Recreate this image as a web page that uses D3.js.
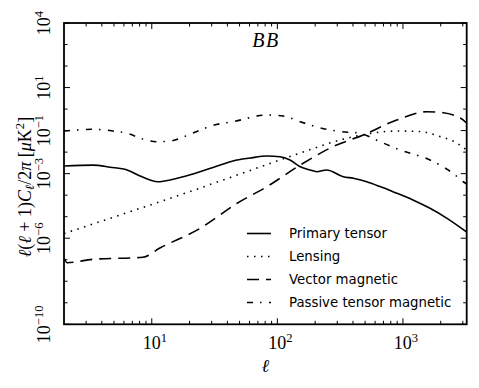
<!DOCTYPE html>
<html><head><meta charset="utf-8">
<script src="https://cdn.jsdelivr.net/npm/d3@7"></script>
<style>body{margin:0;background:#fff}svg{display:block}</style>
</head><body>
<svg id="c" width="479" height="388"></svg>
<script>
// ---- data ----
const primaryL = [2,3.4,4.66,6.36,8.07,9.7,11.2,14,21.3,35,44.4,60.6,82.8,105,126,152,182,206,247,335,403,515,658,834,1202,1643,2245,3220];
const primaryV = [2.26e-3,2.5e-3,2.0e-3,1.48e-3,7.8e-4,5.1e-4,4.2e-4,5.1e-4,9.6e-4,2.5e-3,3.9e-3,5.3e-3,6.6e-3,6.1e-3,4.3e-3,2.1e-3,1.48e-3,1.23e-3,1.48e-3,7.2e-4,6.1e-4,4.2e-4,2.5e-4,1.45e-4,6.0e-5,2.45e-5,8.4e-6,1.94e-6];
const lensingL = [2,9.7,24.3,60.6,152,316,518,897,1368,1974,2600,3220];
const lensingV = [1.65e-6,3.5e-5,2.15e-4,1.4e-3,9.1e-3,0.0366,0.0695,0.0957,0.091,0.053,0.0295,0.0126];
const vectorL = [2,2.12,3.4,8.5,11.6,24.3,47.8,82.8,152,277,484,893,1546,2100,2518,3027,3220];
const vectorV = [1.2e-7,7.3e-8,1.05e-7,1.3e-7,3.5e-7,2.9e-6,4.2e-5,2.5e-4,2.5e-3,0.0179,0.0625,0.311,0.755,0.68,0.53,0.31,0.225];
const passiveL = [2,3.4,4.92,6.36,8.5,11.0,14,21.3,30.8,44.4,82.8,111,152,206,316,455,658,949,1643,2084,2506,3027,3220];
const passiveV = [0.0957,0.115,0.096,0.0748,0.0407,0.0305,0.0329,0.0773,0.176,0.26,0.53,0.476,0.26,0.147,0.091,0.0748,0.0305,0.0126,4.3e-3,2.1e-3,1.03e-3,4.2e-4,3.3e-4];
const seriesNames = ["Primary tensor","Lensing","Vector magnetic","Passive tensor magnetic"];
const xDomain = [2, 3220];
const yDomain = [1e-10, 1e4];
const xMajorTicks = [10, 100, 1000];
const xTickLabels = ["1", "2", "3"];           // exponents of 10
const yLabeledTicks = [1e4, 1e1, 1e-1, 1e-3, 1e-6, 1e-10];
const yTickLabels = ["4", "1", "\u22121", "\u22123", "\u22126", "\u221210"];
const titleText = "BB";

// ---- layout ----
const L = 64, R = 466.7, T = 23, B = 324.3;
const svg = d3.select("#c");
const x = d3.scaleLog().domain(xDomain).range([L, R]);
const y = d3.scaleLog().domain(yDomain).range([B, T]);
const serif = "'Liberation Serif','DejaVu Serif',serif";

svg.append("defs").append("clipPath").attr("id","clip")
  .append("rect").attr("x",L).attr("y",T).attr("width",R-L).attr("height",B-T);

const styles = [
  {dash:null},
  {dash:"1.5,5.5"},
  {dash:"12,7"},
  {dash:"6,7,1.5,7.5"}
];
const data = [
  d3.zip(primaryL, primaryV),
  d3.zip(lensingL, lensingV),
  d3.zip(vectorL, vectorV),
  d3.zip(passiveL, passiveV)
];
const line = d3.line().x(d=>x(d[0])).y(d=>y(d[1])).curve(d3.curveMonotoneX);
const g = svg.append("g").attr("clip-path","url(#clip)");
data.forEach((d,i)=>{
  g.append("path").attr("d",line(d)).attr("fill","none").attr("stroke","#000")
   .attr("stroke-width",1.6).attr("stroke-dasharray",styles[i].dash);
});

// ---- ticks ----
const xMinor = [];
for (let e=0;e<4;e++) for (let m=2;m<10;m++){ const v=m*Math.pow(10,e); if(v>xDomain[0]&&v<xDomain[1]) xMinor.push(v); }
const yAll = d3.range(-10,5).map(e=>Math.pow(10,e));
const tk = svg.append("g").attr("stroke","#000").attr("stroke-width",1);
xMinor.forEach(v=>{
  tk.append("line").attr("x1",x(v)).attr("x2",x(v)).attr("y1",B).attr("y2",B-3.5);
  tk.append("line").attr("x1",x(v)).attr("x2",x(v)).attr("y1",T).attr("y2",T+3.5);
});
xMajorTicks.forEach(v=>{
  tk.append("line").attr("x1",x(v)).attr("x2",x(v)).attr("y1",B).attr("y2",B-6);
  tk.append("line").attr("x1",x(v)).attr("x2",x(v)).attr("y1",T).attr("y2",T+6);
});
yAll.forEach(v=>{
  const major = yLabeledTicks.some(t=>Math.abs(Math.log10(t)-Math.log10(v))<1e-6);
  const len = major?6:3.5;
  tk.append("line").attr("x1",L).attr("x2",L+len).attr("y1",y(v)).attr("y2",y(v));
  tk.append("line").attr("x1",R).attr("x2",R-len).attr("y1",y(v)).attr("y2",y(v));
});

// frame
svg.append("rect").attr("x",L).attr("y",T).attr("width",R-L).attr("height",B-T)
  .attr("fill","none").attr("stroke","#000").attr("stroke-width",1.8);

// x tick labels
xMajorTicks.forEach((v,i)=>{
  const t = svg.append("text").attr("x",x(v)+3).attr("y",349).attr("text-anchor","middle")
    .attr("font-family",serif).attr("font-size",18);
  t.append("tspan").text("10");
  t.append("tspan").attr("dy",-7).attr("font-size",12.6).text(xTickLabels[i]);
});
// y tick labels (rotated)
yLabeledTicks.forEach((v,i)=>{
  const t = svg.append("text").attr("transform",`translate(50,${y(v)}) rotate(-90)`)
    .attr("text-anchor","middle").attr("font-family",serif).attr("font-size",18);
  t.append("tspan").text("10");
  t.append("tspan").attr("dy",-7).attr("font-size",12.6).text(yTickLabels[i]);
});

// axis labels
const xl = svg.append("text").attr("x",(L+R)/2).attr("y",372).attr("text-anchor","middle")
  .attr("font-family",serif).attr("font-size",18).attr("font-style","italic").text("\u2113");
const yl = svg.append("text").attr("transform",`translate(31,187) rotate(-90)`)
  .attr("text-anchor","middle").attr("font-family",serif).attr("font-size",18);
yl.append("tspan").attr("font-style","italic").text("\u2113");
yl.append("tspan").text("(");
yl.append("tspan").attr("font-style","italic").text("\u2113");
yl.append("tspan").text(" + 1)");
yl.append("tspan").attr("font-style","italic").text("C");
yl.append("tspan").attr("font-style","italic").attr("font-size",12.6).attr("dy",3).text("\u2113");
yl.append("tspan").attr("dy",-3).text("/2");
yl.append("tspan").attr("font-style","italic").text("\u03c0");
yl.append("tspan").text("  [");
yl.append("tspan").attr("font-style","italic").text("\u03bc");
yl.append("tspan").text("K");
yl.append("tspan").attr("font-size",12.6).attr("dy",-7).text("2");
yl.append("tspan").attr("dy",7).text("]");

// title
svg.append("text").attr("x",266).attr("y",46.5).attr("text-anchor","middle")
  .attr("font-family",serif).attr("font-size",20).attr("font-style","italic")
  .attr("letter-spacing",1.5).text(titleText);

// legend
const legRows = [233.5, 256.5, 279.5, 302.5];
seriesNames.forEach((n,i)=>{
  svg.append("line").attr("x1",247).attr("x2",271).attr("y1",legRows[i]).attr("y2",legRows[i])
    .attr("stroke","#000").attr("stroke-width",1.6).attr("stroke-dasharray",styles[i].dash);
  svg.append("text").attr("x",289).attr("y",legRows[i]+4).attr("font-family","'DejaVu Sans',sans-serif")
    .attr("font-size",13.3).text(n);
});
</script>
</body></html>
